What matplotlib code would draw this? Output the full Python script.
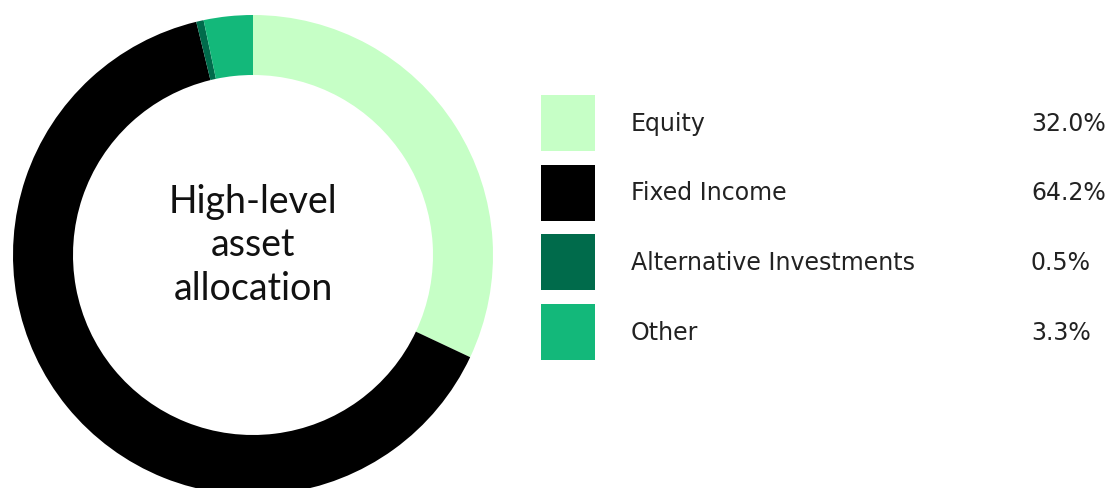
import matplotlib
matplotlib.use("Agg")
import matplotlib.pyplot as plt
from matplotlib.patches import Rectangle

categories = ["Equity", "Fixed Income", "Alternative Investments", "Other"]
values = [32.0, 64.2, 0.5, 3.3]
colors = ["#c6ffc6", "#000000", "#006b4b", "#13b87a"]
center_title = "High-level\nasset\nallocation"

W, H = 1112, 488
fig = plt.figure(figsize=(W / 100, H / 100), dpi=100)
fig.patch.set_facecolor("white")

# Donut axes: center (253,255) px, radius 240 px
cx, cy, r = 253, 255, 240
ax = fig.add_axes([(cx - r) / W, (H - cy - r) / H, 2 * r / W, 2 * r / H])
ax.pie(values, colors=colors, startangle=90, counterclock=False, radius=1.0,
       wedgeprops=dict(width=0.25, linewidth=0))
ax.set_xlim(-1, 1)
ax.set_ylim(-1, 1)
ax.set_aspect("equal")
ax.axis("off")
ax.text(0, 0.04, center_title, ha="center", va="center", fontsize=27,
        family="Lato", color="#111111", linespacing=1.25)

# Legend in pixel coordinates
lax = fig.add_axes([0, 0, 1, 1])
lax.set_xlim(0, W)
lax.set_ylim(H, 0)
lax.axis("off")
row_top = 95
row_step = 69.5
sq = 54
for i, (cat, val, col) in enumerate(zip(categories, values, colors)):
    y0 = row_top + i * row_step
    lax.add_patch(Rectangle((541, y0), sq, sq + 2, facecolor=col, edgecolor="none"))
    ym = y0 + 29
    lax.text(631, ym, cat, ha="left", va="center", fontsize=17, family="DejaVu Sans",
             color="#222222")
    lax.text(1031, ym, f"{val:.1f}%", ha="left", va="center", fontsize=17,
             family="DejaVu Sans", color="#222222")

fig.savefig("out.png", dpi=100, facecolor="white")
